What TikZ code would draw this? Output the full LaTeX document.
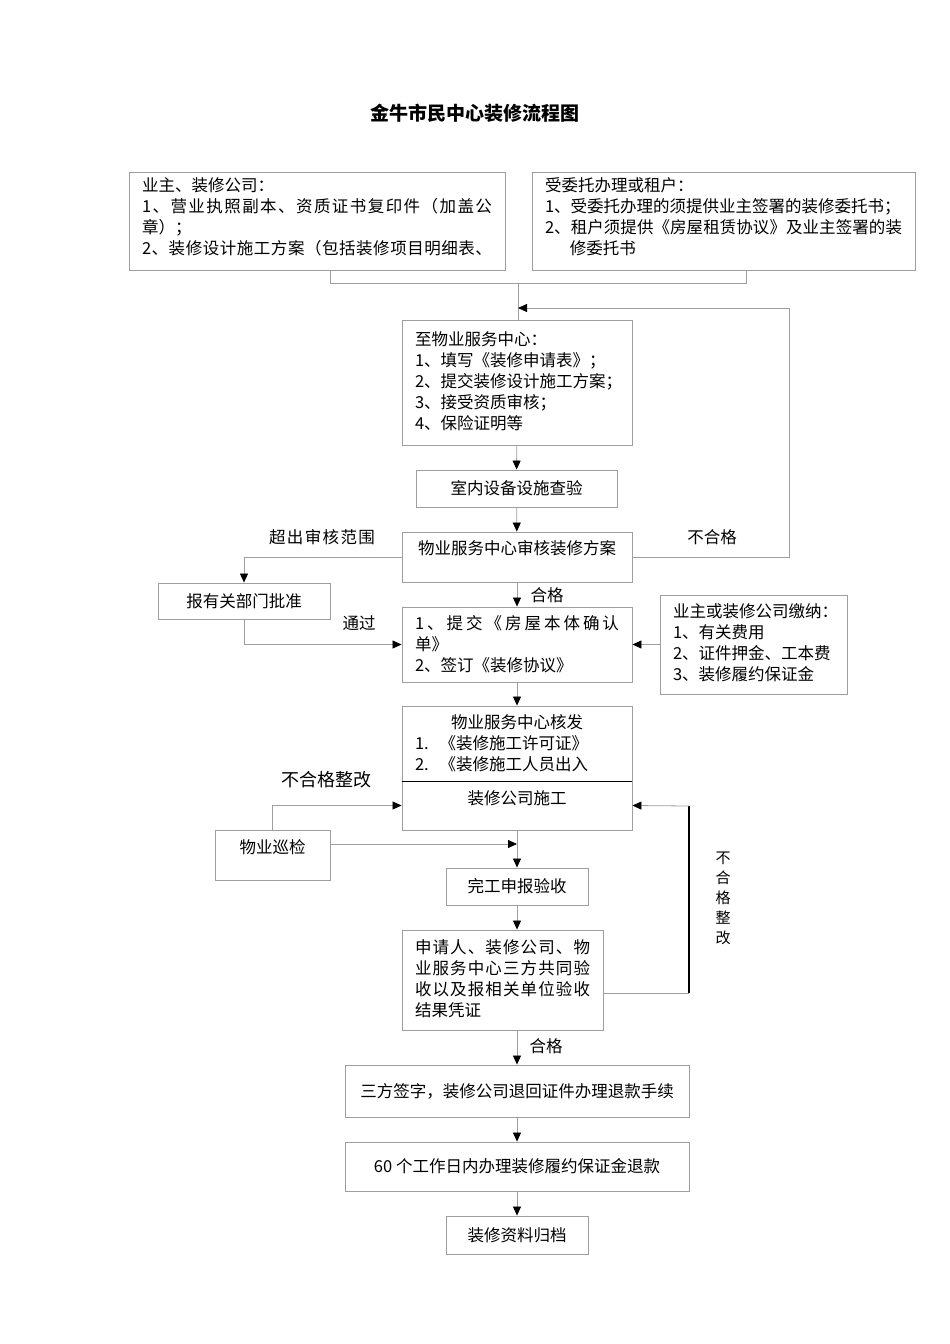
\documentclass[tikz,border=0pt]{standalone}
\usepackage{fontspec}
\setmainfont{Noto Sans CJK SC}
\usetikzlibrary{
    arrows.meta, % For arrow tips
    positioning  % For relative placement
}

% spread the characters of one line over a given width
\def\jlfirst#1{#1\jlrest}
\def\jlrest#1{\ifx\relax#1\else\hskip 0pt plus 1fil#1\expandafter\jlrest\fi}
\newcommand{\jlto}[2]{\makebox[#1][s]{\jlfirst#2\relax}}
\newcommand{\jl}[1]{\jlto{\linewidth}{#1}}

\begin{document}
\begin{tikzpicture}[
    x=1pt, y=-1pt,
    bodyfont/.style={font=\fontsize{16.5}{21}\selectfont},
    box/.style={draw=black!38, line width=0.9pt, bodyfont,
        inner xsep=13pt, inner ysep=3pt},
    listbox/.style={box, align=left},           % boxes with a list of lines
    onebox/.style={box, align=center},          % boxes with one centred line
    link/.style={draw=black!38, line width=0.8pt},
    arr/.style={link, -{Triangle[width=8pt, length=9pt, color=black, fill=black]}},
    note/.style={bodyfont, inner sep=0pt},
    headline/.style={font=\fontsize{19}{21}\selectfont\bfseries, inner sep=0pt}
]
    \useasboundingbox (0,0) rectangle (950,1344);

    % Title
    \node[headline] (title) at (475,113) {金牛市民中心装修流程图};

    % Documents to bring
    \node[listbox, text width=350pt, text height=16.1pt, text depth=75.9pt]
        (owner) at (317,221)
        {业主、装修公司：\\
         \jl{1、营业执照副本、资质证书复印件（加盖公}\\
         章）；\\
         \jl{2、装修设计施工方案（包括装修项目明细表、}};
    \node[listbox, text width=357pt, text height=16.1pt, text depth=75.9pt]
        (agent) at (723.5,221)
        {受委托办理或租户：\\
         \jlto{352pt}{1、受委托办理的须提供业主签署的装修委托书；}\\
         \jl{2、租户须提供《房屋租赁协议》及业主签署的装}\\
         \hspace*{1.5em}修委托书};

    % Main column
    \node[listbox, text width=204pt, text height=22.1pt, text depth=96.9pt]
        (apply) at (517,382.5)
        {至物业服务中心：\\
         1、填写《装修申请表》；\\
         2、提交装修设计施工方案；\\
         3、接受资质审核；\\
         4、保险证明等};
    \node[onebox, minimum width=201pt, minimum height=37pt]
        (check) at (516.5,488.5) {室内设备设施查验};
    \node[onebox, text width=204pt, text height=19.1pt, text depth=24.9pt]
        (review) at (517,557) {物业服务中心审核装修方案};
    \node[onebox, minimum width=172pt, minimum height=36pt]
        (approve) at (244,601) {报有关部门批准};
    \node[listbox, text width=204pt, text height=19.1pt, text depth=49.9pt]
        (sign) at (517,644.5)
        {\jl{1、提交《房屋本体确认}\\
         单》\\
         2、签订《装修协议》};
    \node[listbox, text width=161pt, text height=19.1pt, text depth=73.9pt]
        (pay) at (753.5,644.5)
        {业主或装修公司缴纳：\\
         1、有关费用\\
         2、证件押金、工本费\\
         3、装修履约保证金};
    \node[listbox, text width=204pt, text height=19.1pt, text depth=49.9pt]
        (permit) at (517,743.5)
        {\makebox[\linewidth]{物业服务中心核发}\\
         1.~~《装修施工许可证》\\
         2.~~《装修施工人员出入};
    \node[onebox, text width=204pt, text height=20.1pt, text depth=22.9pt]
        (build) at (517,805.5) {装修公司施工};
    \draw[black, line width=0.9pt] (permit.south west) -- (permit.south east);
    \node[onebox, minimum width=115pt, text height=20.1pt, text depth=23.9pt,
        inner xsep=0pt] (patrol) at (272.5,855) {物业巡检};
    \node[onebox, minimum width=142pt, minimum height=37pt]
        (finish) at (517,886.5) {完工申报验收};
    \node[listbox, text width=175pt, text height=20.1pt, text depth=73.9pt]
        (accept) at (502.5,980)
        {\jl{申请人、装修公司、物}\\
         \jl{业服务中心三方共同验}\\
         \jl{收以及报相关单位验收}\\
         结果凭证};
    \node[onebox, minimum width=344pt, minimum height=52pt]
        (refund) at (517,1091) {三方签字，装修公司退回证件办理退款手续};
    \node[onebox, minimum width=344pt, minimum height=49pt]
        (deposit) at (517,1166.5) {60 个工作日内办理装修履约保证金退款};
    \node[onebox, minimum width=142pt, minimum height=38pt]
        (archive) at (517,1235) {装修资料归档};

    % Junctions
    \coordinate (jl) at (330,283);
    \coordinate (jr) at (746,283);
    \coordinate (jm) at (518,283);
    \coordinate (back) at (789,308);
    \coordinate (cross) at (517,844);
    \coordinate (redo) at (689,993);
    \coordinate (redotop) at (689,806);

    % Connectors
    \draw[link] (owner.south -| jl) -- (jl) -- (jr) -- (agent.south -| jr);
    \draw[link] (jm) -- (apply.north -| jm);
    \draw[arr] (review.east) -| (back) -- (back -| jm);
    \draw[arr] (apply) -- (check);
    \draw[arr] (check) -- (review);
    \draw[arr] (review.west) -| (approve.north);
    \draw[arr] (approve.south) |- (sign.west);
    \draw[arr] (review) -- (sign);
    \draw[arr] (pay) -- (sign);
    \draw[arr] (sign) -- (permit);
    \draw[arr] (patrol.north) |- (build.west);
    \draw[arr] (patrol.east |- cross) -- (cross);
    \draw[arr] (build) -- (finish);
    \draw[arr] (finish.south) -- (finish.south |- accept.north);
    \draw[link] (accept.east |- redo) -- (redo);
    \draw[black, line width=1.6pt] (redo) -- (redotop);
    \draw[arr] (redotop) -- (build.east);
    \draw[arr] (accept.south -| refund.north) -- (refund);
    \draw[arr] (refund) -- (deposit);
    \draw[arr] (deposit) -- (archive);

    % Labels
    \node[note] (outscope) at (322,537) {\jlto{106pt}{超出审核范围}};
    \node[note] (failtop) at (712,537) {不合格};
    \node[note] (passtop) at (547,595) {合格};
    \node[note] (passed) at (359,623) {通过};
    \node[note, font=\fontsize{18}{20}\selectfont] (fixleft) at (326,780) {不合格整改};
    \node[note, align=center, font=\fontsize{15}{20}\selectfont] (fixright) at (723,898)
        {不\\合\\格\\整\\改};
    \node[note] (passlow) at (546,1046) {合格};

\end{tikzpicture}
\end{document}
